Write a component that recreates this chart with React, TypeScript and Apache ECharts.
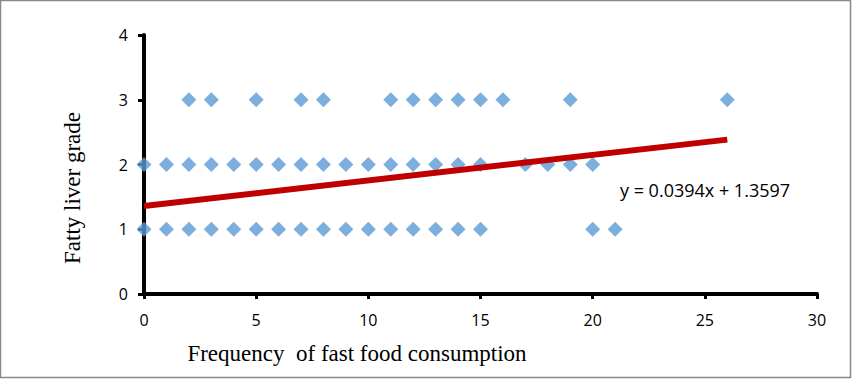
import React, { useEffect, useRef } from "react";
import * as echarts from "echarts";

const grade3X = [2, 3, 5, 7, 8, 11, 12, 13, 14, 15, 16, 19, 26];
const grade2X = [0, 1, 2, 3, 4, 5, 6, 7, 8, 9, 10, 11, 12, 13, 14, 15, 17, 18, 19, 20];
const grade1X = [0, 1, 2, 3, 4, 5, 6, 7, 8, 9, 10, 11, 12, 13, 14, 15, 20, 21];
const slope = 0.0394;
const intercept = 1.3597;
const trendX = [0, 26];
const equationText = "y = 0.0394x + 1.3597";
const xTitle = "Frequency  of fast food consumption";
const yTitle = "Fatty liver grade";

export default function App() {
  const ref = useRef<HTMLDivElement>(null);
  useEffect(() => {
    document.body.style.margin = "0";
    if (!ref.current) return;
    const chart = echarts.init(ref.current, null, { renderer: "svg" });
    const points: number[][] = [
      ...grade3X.map((x) => [x, 3]),
      ...grade2X.map((x) => [x, 2]),
      ...grade1X.map((x) => [x, 1]),
    ];
    const trend = trendX.map((x) => [x, intercept + slope * x]);
    const labelFont = { fontFamily: "Open Sans", fontSize: 16, color: "#000" };
    chart.setOption({
      animation: false,
      grid: { left: 144, right: 35, top: 35, bottom: 85, containLabel: false },
      xAxis: {
        type: "value",
        min: 0,
        max: 30,
        interval: 5,
        axisLine: { show: true, lineStyle: { color: "#000", width: 4 } },
        axisTick: { show: true, length: 5, lineStyle: { color: "#000", width: 3 } },
        axisLabel: { ...labelFont, margin: 18 },
        splitLine: { show: false },
      },
      yAxis: {
        type: "value",
        min: 0,
        max: 4,
        interval: 1,
        axisLine: { show: true, lineStyle: { color: "#000", width: 4 } },
        axisTick: { show: true, length: 6, lineStyle: { color: "#000", width: 3 } },
        axisLabel: { ...labelFont, margin: 16 },
        splitLine: { show: false },
      },
      series: [
        {
          type: "scatter",
          data: points,
          symbol: "diamond",
          symbolSize: 15,
          itemStyle: { color: "#5B9BD5" },
          z: 2,
        },
        {
          type: "line",
          data: trend,
          symbol: "none",
          lineStyle: { color: "#C00000", width: 6 },
          z: 3,
        },
      ],
      graphic: [
        {
          type: "rect",
          shape: { x: 0.5, y: 0.5, width: 850, height: 377 },
          style: { fill: "none", stroke: "#888", lineWidth: 1.5 },
          silent: true,
        },
        {
          type: "text",
          x: 705,
          y: 190,
          style: {
            text: equationText,
            fontFamily: "Open Sans",
            fontSize: 18,
            fill: "#000",
            align: "center",
            verticalAlign: "middle",
          },
        },
        {
          type: "text",
          x: 357,
          y: 353,
          style: {
            text: xTitle,
            fontFamily: "Liberation Serif",
            fontSize: 23,
            fill: "#000",
            align: "center",
            verticalAlign: "middle",
          },
        },
        {
          type: "text",
          x: 72,
          y: 188,
          rotation: Math.PI / 2,
          style: {
            text: yTitle,
            fontFamily: "Liberation Serif",
            fontSize: 23,
            fill: "#000",
            align: "center",
            verticalAlign: "middle",
          },
        },
      ],
    });
    return () => chart.dispose();
  }, []);
  return <div ref={ref} style={{ width: 852, height: 379 }} />;
}
